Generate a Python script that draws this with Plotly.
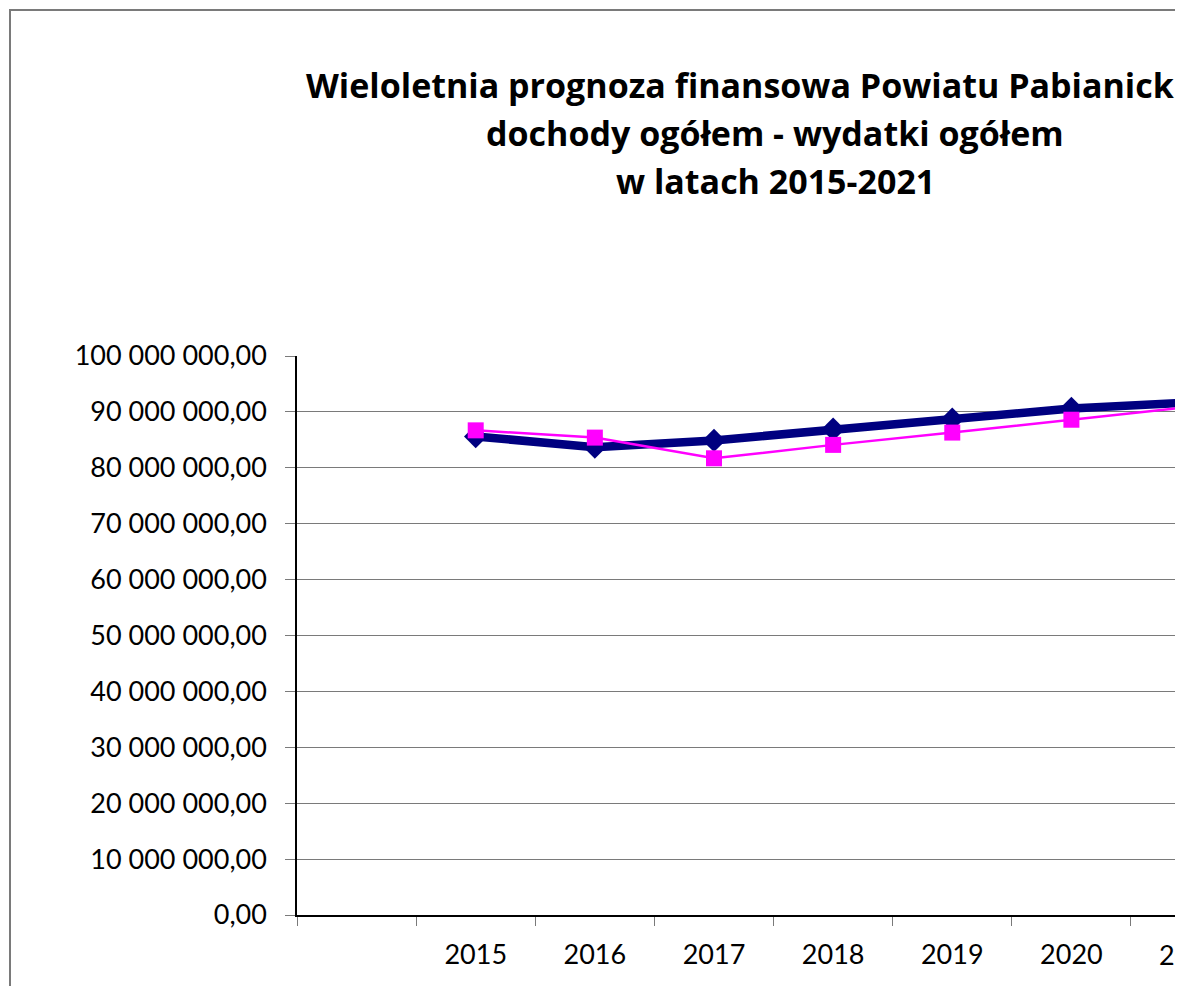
import plotly.graph_objects as go

# ---- data ----
years = [2015, 2016, 2017, 2018, 2019, 2020, 2021]
dochody_ogolem = [85.6e6, 83.7e6, 84.9e6, 86.9e6, 88.7e6, 90.6e6, 91.7e6]
wydatki_ogolem = [86.7e6, 85.4e6, 81.7e6, 84.1e6, 86.3e6, 88.6e6, 90.9e6]
series_names = ["dochody ogółem", "wydatki ogółem"]
title_lines = [
    "Wieloletnia prognoza finansowa Powiatu Pabianickiego",
    "dochody ogółem - wydatki ogółem",
    "w latach 2015-2021",
]
y_max = 100e6
y_step = 10e6

# ---- layout geometry (pixels, figure coordinates; page adds 8px body margin) ----
W, H = 1175, 978
L, R, T, B = 289, 6, 348, 71
plot_w = W - L - R
plot_h = H - T - B
slot_px = 119.14
x0 = years[0] - 1.5                      # an empty category slot before 2015
x1 = x0 + plot_w / slot_px

FONT = "Lato"
TITLE_FONT = "Open Sans"
GRAY = "#7a7a7a"

def px_to_paper_x(px):
    return (px - L) / plot_w

def px_to_paper_y(py):
    return (H - B - py) / plot_h

fig = go.Figure()
fig.add_trace(go.Scatter(
    x=years, y=dochody_ogolem, name=series_names[0], mode="lines+markers",
    line=dict(color="#000080", width=8.5),
    marker=dict(symbol="diamond", size=18, color="#000080"),
))
fig.add_trace(go.Scatter(
    x=years, y=wydatki_ogolem, name=series_names[1], mode="lines+markers",
    line=dict(color="#FF00FF", width=2.5),
    marker=dict(symbol="square", size=16, color="#FF00FF"),
))

boundaries = [x0 + i for i in range(0, 10)]

fig.update_layout(
    width=W, height=H,
    margin=dict(l=L, r=R, t=T, b=B, pad=0),
    paper_bgcolor="white", plot_bgcolor="white",
    showlegend=False,
    separators=", ",
    font=dict(family=FONT, size=27, color="black"),
    xaxis=dict(
        range=[x0, x1],
        tickmode="array", tickvals=years, ticktext=[str(y) for y in years],
        ticks="", showgrid=False, zeroline=False,
        showline=True, linecolor="black", linewidth=1.5,
        ticklabelstandoff=15,
        tickfont=dict(family=FONT, size=27, color="black"),
        minor=dict(tickmode="array", tickvals=boundaries, ticks="outside",
                   ticklen=9, tickcolor=GRAY, tickwidth=1.2, showgrid=False),
    ),
    yaxis=dict(
        range=[0, y_max], dtick=y_step, tick0=0,
        tickformat=",.2f",
        ticks="outside", ticklen=10, tickcolor=GRAY, tickwidth=1.2,
        showgrid=True, gridcolor=GRAY, gridwidth=1.2,
        zeroline=False,
        showline=True, linecolor="black", linewidth=1.5,
        ticklabelstandoff=13,
        tickfont=dict(family=FONT, size=27, color="black"),
    ),
)

# partially visible last category label (2021) sits beyond the right edge
fig.add_annotation(
    x=(years[-1] - x0) / (x1 - x0), xref="paper", y=0, yref="paper",
    text=str(years[-1]), showarrow=False, xanchor="center", yanchor="top",
    yshift=-21, font=dict(family=FONT, size=27, color="black"),
)

# title lines
title_center_px = 767
for i, (line, ypx) in enumerate(zip(title_lines, [77, 125, 173])):
    fig.add_annotation(
        x=px_to_paper_x(title_center_px), xref="paper",
        y=px_to_paper_y(ypx), yref="paper",
        text=f"<b>{line}</b>", showarrow=False,
        xanchor="center", yanchor="middle",
        font=dict(family=TITLE_FONT, size=34, color="black"),
    )

# chart frame
fig.add_shape(
    type="rect", xref="paper", yref="paper",
    x0=px_to_paper_x(2), x1=px_to_paper_x(W + 400),
    y0=px_to_paper_y(H + 200), y1=px_to_paper_y(2),
    line=dict(color=GRAY, width=2), fillcolor="rgba(0,0,0,0)", layer="below",
)

fig.write_html("out.html")
